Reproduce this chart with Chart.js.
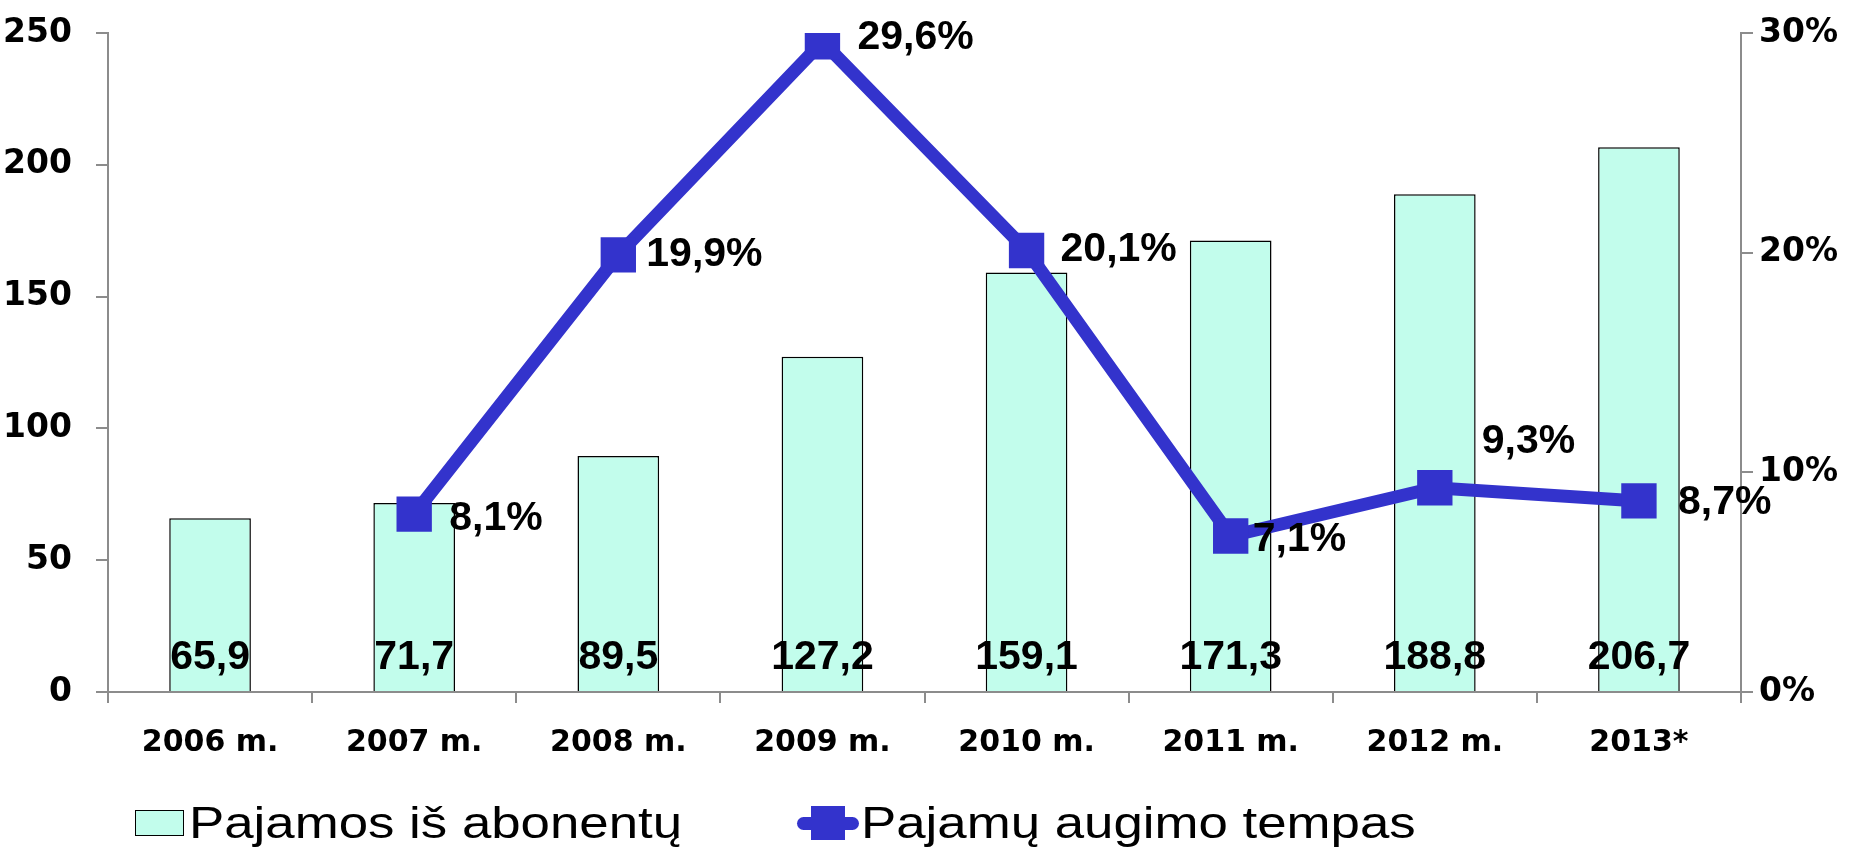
<!DOCTYPE html>
<html>
<head>
<meta charset="utf-8">
<script src="https://cdn.jsdelivr.net/npm/chart.js@4"></script>
<style>
  html, body { margin: 0; padding: 0; background: #fff; }
  #wrap { position: relative; width: 1849px; height: 849px; }
  #chart { position: absolute; left: 0; top: 0; }
  .legend-item { position: absolute; top: 793px; height: 60px; display: flex; align-items: center; }
  .legend-text { font-family: "Liberation Sans", Arial, sans-serif; font-size: 44px; color: #000;
                 transform: scaleX(1.2); transform-origin: left center; white-space: nowrap; }
  .box { width: 47px; height: 24px; background: #c2fdec; border: 1.5px solid #000; margin-right: 5px; }
  .lineMark { position: relative; width: 62px; height: 36px; margin-right: 2px; }
  .lineMark .ln { position: absolute; left: 0; top: 12px; width: 62px; height: 13px; border-radius: 7px; background: #3333cc; }
  .lineMark .sq { position: absolute; left: 14px; top: 1px; width: 34px; height: 34px; background: #3333cc; }
</style>
</head>
<body>
<div id="wrap">
  <canvas id="chart" width="1849" height="849"></canvas>
  <div class="legend-item" style="left:135px"><div class="box"></div><span class="legend-text">Pajamos iš abonentų</span></div>
  <div class="legend-item" style="left:797px"><div class="lineMark"><div class="ln"></div><div class="sq"></div></div><span class="legend-text">Pajamų augimo tempas</span></div>
</div>
<script>
const years = ["2006 m.", "2007 m.", "2008 m.", "2009 m.", "2010 m.", "2011 m.", "2012 m.", "2013*"];
const revenue = [65.9, 71.7, 89.5, 127.2, 159.1, 171.3, 188.8, 206.7];
const growth = [null, 8.1, 19.9, 29.6, 20.1, 7.1, 9.3, 8.7];
const revenueTicks = [0, 50, 100, 150, 200, 250];
const growthTicks = [0, 10, 20, 30];

// label placement relative to each point (px)
const growthLabelShift = [null, [35, 5], [28, 0], [35, -4], [34, -1], [22, 4], [47, -46], [39, 2]];

const fmt = v => v.toFixed(1).replace(".", ",");
const axisGray = "#8c8c8c";
const tickFont = { family: "'DejaVu Sans', sans-serif", weight: "bold", size: 33 };

const labelPlugin = {
    id: "valueLabels",
    afterDatasetsDraw(chart) {
        const ctx = chart.ctx;
        ctx.save();
        ctx.fillStyle = "#000";
        ctx.font = "bold 41px 'Liberation Sans', Arial, sans-serif";
        ctx.textBaseline = "middle";
        ctx.textAlign = "center";
        chart.getDatasetMeta(1).data.forEach((bar, i) => {
            ctx.fillText(fmt(revenue[i]), bar.x, chart.chartArea.bottom - 34);
        });
        ctx.textAlign = "left";
        chart.getDatasetMeta(0).data.forEach((pt, i) => {
            if (growth[i] === null) return;
            const s = growthLabelShift[i];
            ctx.fillText(fmt(growth[i]) + "%", pt.x + s[0], pt.y + s[1]);
        });
        ctx.restore();
    }
};

// vertical axes: fixed width, no extra top/bottom padding
const fixY = s => { s.width = 108; s.paddingTop = 0; s.paddingBottom = 0; };

new Chart(document.getElementById("chart"), {
    type: "bar",
    data: {
        labels: years,
        datasets: [{
            type: "line",
            label: "Pajamų augimo tempas",
            data: growth,
            yAxisID: "y1",
            borderColor: "#3333cc",
            backgroundColor: "#3333cc",
            borderWidth: 13,
            pointStyle: "rect",
            pointRadius: 25,
            pointBorderWidth: 0,
            pointBackgroundColor: "#3333cc",
            tension: 0,
            order: 0
        }, {
            label: "Pajamos iš abonentų",
            data: revenue,
            yAxisID: "y",
            backgroundColor: "#c2fdec",
            borderColor: "#000",
            borderWidth: 1.5,
            categoryPercentage: 1,
            barPercentage: 0.4,
            order: 1
        }]
    },
    options: {
        responsive: false,
        animation: false,
        layout: { padding: { top: 33, bottom: 97, left: 0, right: 0 } },
        plugins: { legend: { display: false }, tooltip: { enabled: false } },
        scales: {
            x: {
                afterFit: s => { s.height = 60; },
                grid: { drawOnChartArea: false, tickLength: 11, color: axisGray, lineWidth: 2 },
                border: { color: axisGray, width: 2 },
                ticks: { color: "#000", font: { ...tickFont, size: 30 }, padding: 22 }
            },
            y: {
                position: "left",
                min: 0, max: 250,
                afterFit: fixY,
                afterBuildTicks: s => { s.ticks = revenueTicks.map(v => ({ value: v })); },
                grid: { drawOnChartArea: false, tickLength: 12, color: axisGray, lineWidth: 2 },
                border: { color: axisGray, width: 2 },
                ticks: { color: "#000", font: tickFont, padding: 24 }
            },
            y1: {
                position: "right",
                min: 0, max: 30,
                afterFit: fixY,
                afterBuildTicks: s => { s.ticks = growthTicks.map(v => ({ value: v })); },
                grid: { drawOnChartArea: false, tickLength: 12, color: axisGray, lineWidth: 2 },
                border: { color: axisGray, width: 2 },
                ticks: { color: "#000", font: tickFont, padding: 6, callback: v => v + "%" }
            }
        }
    },
    plugins: [labelPlugin]
});
</script>
</body>
</html>
